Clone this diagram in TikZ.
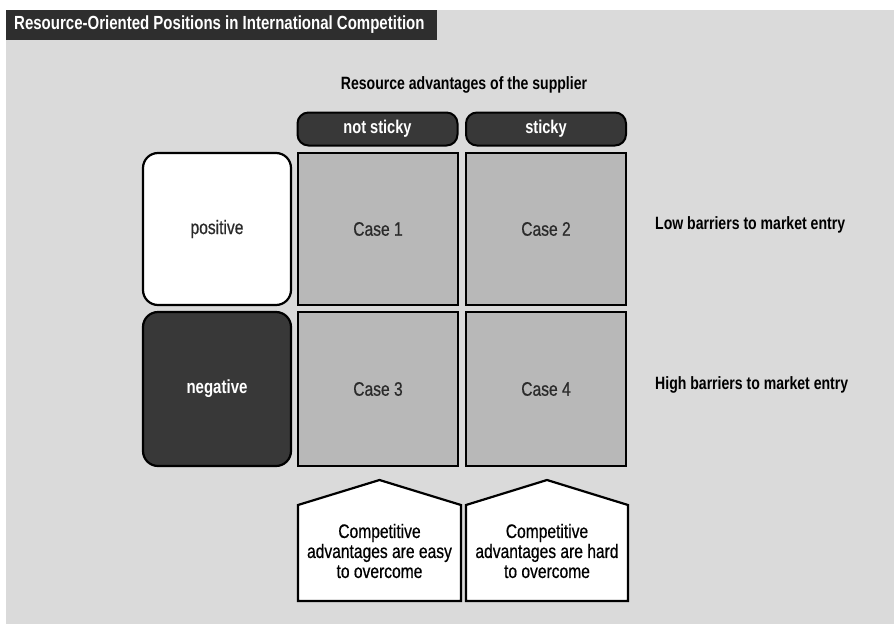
\documentclass[tikz,border=0pt]{standalone}
\usepackage{fontspec}
\setmainfont{Liberation Sans}[FakeStretch=0.8,FakeBold=0.6]
\newfontfamily\condb{Liberation Sans Bold}[FakeStretch=0.79]
\definecolor{bg}{HTML}{DADADA}
\definecolor{dark}{HTML}{383838}
\definecolor{cell}{HTML}{B8B8B8}
\definecolor{txt}{HTML}{2A2A2A}
\begin{document}
\begin{tikzpicture}[x=1pt,y=-1pt,
  cellbox/.style={draw=black,line width=2.2pt,fill=cell,minimum width=160pt,minimum height=152pt,inner sep=0pt,text=txt,font=\fontsize{19.5}{22}\selectfont},
  sidebox/.style={draw=black,line width=2.2pt,rounded corners=15pt,minimum width=148pt,minimum height=152pt,inner sep=0pt,font=\fontsize{19.5}{22}\selectfont},
  headbox/.style={draw=black,line width=2pt,fill=dark,rounded corners=11pt,minimum width=160pt,minimum height=33pt,inner sep=0pt,text=white,font=\condb\fontsize{18.5}{20}\selectfont},
  bold/.style={font=\condb\fontsize{17.8}{20}\selectfont,inner sep=0pt},
  house/.style={draw=black,line width=2.2pt,fill=white},
  housetext/.style={align=center,font=\fontsize{19.5}{20}\selectfont,text=black,inner sep=0pt}]
\useasboundingbox (0,0) rectangle (894,624);
\fill[bg] (6,10) rectangle (894,624);
\fill[black!82] (6,10) rectangle (437,40);
\node[font=\condb\fontsize{19}{20}\selectfont,text=white,anchor=west,inner sep=0pt] (title) at (14,25) {Resource-Oriented Positions in International Competition};
\node[bold] (res) at (464,85) {Resource advantages of the supplier};
\node[headbox] (h1) at (377.5,129) {not sticky};
\node[headbox] (h2) at (546,129) {sticky};
\node[cellbox] (c1) at (378,229) {Case 1};
\node[cellbox] (c2) at (546,229) {Case 2};
\node[cellbox,minimum height=154pt] (c3) at (378,389) {Case 3};
\node[cellbox,minimum height=154pt] (c4) at (546,389) {Case 4};
\node[sidebox,fill=white,text=txt] (pos) at (217,229) {positive};
\node[sidebox,fill=dark,text=white,minimum height=154pt,font=\condb\fontsize{19}{20}\selectfont] (neg) at (217,389) {negative};
\node[bold,anchor=west] (low) at (655,225) {Low barriers to market entry};
\node[bold,anchor=west] (high) at (655,385) {High barriers to market entry};
\draw[house] (298,601) -- (298,505) -- (379.5,480) -- (461,505) -- (461,601) -- cycle;
\draw[house] (466,601) -- (466,505) -- (547,480) -- (628,505) -- (628,601) -- cycle;
\node[housetext] (e1) at (379.5,551) {Competitive\\advantages are easy\\to overcome};
\node[housetext] (e2) at (547,551) {Competitive\\advantages are hard\\to overcome};
\end{tikzpicture}
\end{document}
